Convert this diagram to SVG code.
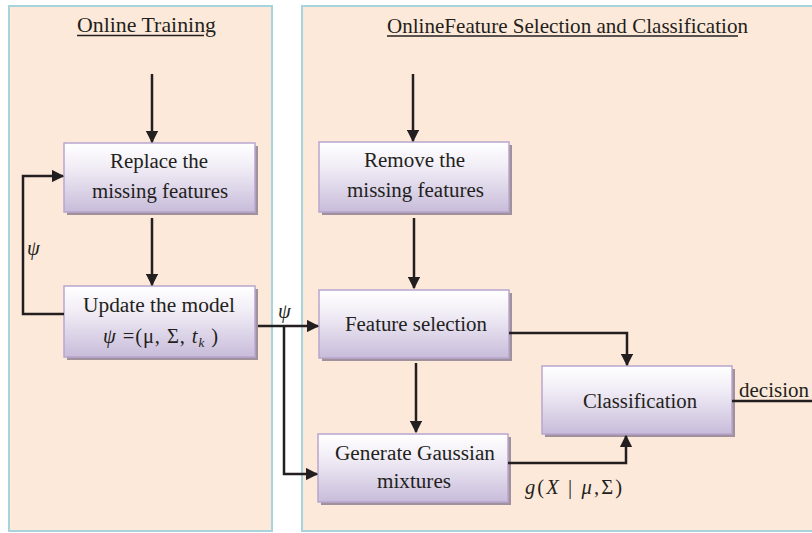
<svg xmlns="http://www.w3.org/2000/svg" width="812" height="533" viewBox="0 0 812 533">
<defs>
<linearGradient id="boxg" x1="0" y1="0" x2="0" y2="1">
<stop offset="0" stop-color="#ffffff"/>
<stop offset="0.35" stop-color="#f1edf6"/>
<stop offset="1" stop-color="#c8bcda"/>
</linearGradient>
<marker id="arr" viewBox="0 0 10 10" refX="9" refY="5" markerWidth="5" markerHeight="5" orient="auto" markerUnits="strokeWidth">
<path d="M0,0 L10,5 L0,10 z" fill="#231f20"/>
</marker>
</defs>
<style>
.panel{fill:#fde9d9;stroke:#a6d3dc;stroke-width:2}
.shadow{fill:#a0919d}
.box{fill:url(#boxg);stroke:#b8a7cf;stroke-width:1.5}
.t{font-family:"Liberation Serif","Times New Roman",serif;font-size:20.5px;fill:#231f20}
.title{font-family:"Liberation Serif","Times New Roman",serif;font-size:21px;fill:#231f20}
.ul{stroke:#231f20;stroke-width:1.5}
.c{fill:none;stroke:#231f20;stroke-width:2.5}
.it{font-style:italic}
</style>
<rect width="812" height="533" fill="#ffffff"/>
<g id="panel-training">
<rect class="panel" x="9" y="6" width="263" height="525"/>
<text class="title" x="77" y="32" textLength="139" lengthAdjust="spacingAndGlyphs">Online Training</text>
<line class="ul" x1="77" y1="35.5" x2="204" y2="35.5"/>
</g>
<g id="panel-selection">
<rect class="panel" x="302" y="6" width="520" height="525"/>
<text class="title" x="387" y="33" textLength="361" lengthAdjust="spacingAndGlyphs">OnlineFeature Selection and Classification</text>
<line class="ul" x1="387" y1="36" x2="738" y2="36"/>
</g>
<g id="replace">
<rect class="shadow" x="67" y="146" width="191" height="69"/>
<rect class="box" x="64" y="143" width="191" height="69"/>
<text class="t" x="110" y="168" textLength="98" lengthAdjust="spacingAndGlyphs">Replace the</text>
<text class="t" x="92" y="198" textLength="136" lengthAdjust="spacingAndGlyphs">missing features</text>
</g>
<g id="update">
<rect class="shadow" x="67" y="289" width="191" height="71"/>
<rect class="box" x="64" y="286" width="191" height="71"/>
<text class="t" x="83" y="312" textLength="152" lengthAdjust="spacingAndGlyphs">Update the model</text>
<text class="t" x="103" y="343" font-size="22" textLength="115" lengthAdjust="spacing"><tspan class="it">ψ</tspan> =(μ, Σ, <tspan class="it">t</tspan><tspan class="it" font-size="13" dy="4">k</tspan><tspan dy="-4"> )</tspan></text>
</g>
<g id="remove">
<rect class="shadow" x="322" y="145" width="190" height="70"/>
<rect class="box" x="319" y="142" width="190" height="70"/>
<text class="t" x="364" y="167" textLength="101" lengthAdjust="spacingAndGlyphs">Remove the</text>
<text class="t" x="347" y="197" textLength="137" lengthAdjust="spacingAndGlyphs">missing features</text>
</g>
<g id="feature">
<rect class="shadow" x="322" y="293" width="190" height="68"/>
<rect class="box" x="319" y="290" width="190" height="68"/>
<text class="t" x="345" y="331" textLength="142" lengthAdjust="spacingAndGlyphs">Feature selection</text>
</g>
<g id="generate">
<rect class="shadow" x="321" y="437" width="190" height="68"/>
<rect class="box" x="318" y="434" width="190" height="68"/>
<text class="t" x="335" y="460" textLength="160" lengthAdjust="spacingAndGlyphs">Generate Gaussian</text>
<text class="t" x="377" y="488" textLength="74" lengthAdjust="spacingAndGlyphs">mixtures</text>
</g>
<g id="classification">
<rect class="shadow" x="545" y="369" width="190" height="68"/>
<rect class="box" x="542" y="366" width="190" height="68"/>
<text class="t" x="583" y="408" textLength="114" lengthAdjust="spacingAndGlyphs">Classification</text>
</g>
<g id="connectors">
<line class="c" x1="152" y1="74" x2="152" y2="142" marker-end="url(#arr)"/>
<line class="c" x1="152" y1="218" x2="152" y2="285" marker-end="url(#arr)"/>
<polyline class="c" points="64,314 23,314 23,176 63,176" marker-end="url(#arr)"/>
<line class="c" x1="413" y1="74" x2="413" y2="141" marker-end="url(#arr)"/>
<line class="c" x1="414" y1="218" x2="414" y2="288" marker-end="url(#arr)"/>
<line class="c" x1="258" y1="326" x2="318" y2="326" marker-end="url(#arr)"/>
<polyline class="c" points="284,326 284,474 317,474" marker-end="url(#arr)"/>
<line class="c" x1="416" y1="363" x2="416" y2="432" marker-end="url(#arr)"/>
<polyline class="c" points="509,333 627,333 627,365" marker-end="url(#arr)"/>
<polyline class="c" points="508,463 626,463 626,436" marker-end="url(#arr)"/>
<line class="c" x1="732" y1="401" x2="812" y2="401"/>
<text class="t it" x="27" y="255" font-size="22">ψ</text>
<text class="t it" x="278" y="318" font-size="22">ψ</text>
<text class="t" x="739" y="397" textLength="70" lengthAdjust="spacingAndGlyphs">decision</text>
<text class="t" x="525" y="494" font-size="22" textLength="97" lengthAdjust="spacing"><tspan class="it">g</tspan>(<tspan class="it">X</tspan> | <tspan class="it">μ</tspan>,Σ)</text>
</g>
</svg>
